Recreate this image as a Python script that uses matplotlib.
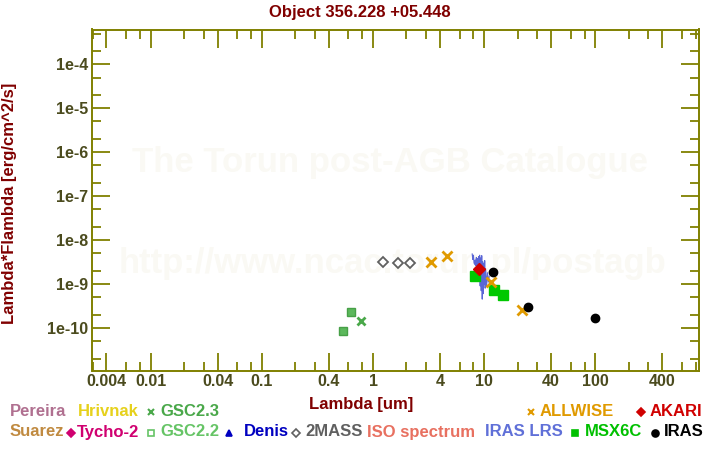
#!/usr/bin/env python3
import matplotlib
matplotlib.use('Agg')
import matplotlib.pyplot as plt
from matplotlib.lines import Line2D
from matplotlib.ticker import FixedLocator, NullFormatter

# photometry (lambda in um, lambda*F_lambda in erg/cm^2/s)
mass_wl = [1.235, 1.662, 2.159]
mass_fl = [3.16e-9, 3.0e-9, 3.0e-9]
allwise_wl = [3.35, 4.6, 11.6, 22.1]
allwise_fl = [3.16e-9, 4.3e-9, 1.11e-9, 2.57e-10]
akari_wl = [9.0]
akari_fl = [2.19e-9]
iras_wl = [12.0, 25.0, 100.0]
iras_fl = [1.87e-9, 3.0e-10, 1.71e-10]
msx_wl = [8.28, 12.13, 14.65]
msx_fl = [1.52e-9, 7.3e-10, 5.6e-10]
gsc22_wl = [0.63, 0.536]
gsc22_fl = [2.31e-10, 8.5e-11]
gsc23_wl = [0.777]
gsc23_fl = [1.45e-10]

# IRAS LRS spectrum (noisy)
lrs_wl = [7.8, 7.9, 8.0, 8.1, 8.2, 8.3, 8.4, 8.5, 8.6, 8.7, 8.8, 8.9, 9.0, 9.1,
          9.2, 9.3, 9.4, 9.5, 9.6, 9.7, 9.8, 9.9, 10.0, 10.1, 10.2, 10.3, 10.5,
          10.7, 10.9, 11.1]
lrs_fl = [4.8e-9, 3.6e-9, 4.5e-9, 3.0e-9, 2.8e-9, 3.5e-9, 2.6e-9, 4.0e-9, 2.2e-9,
          3.8e-9, 1.6e-9, 4.2e-9, 1.2e-9, 4.5e-9, 9.0e-10, 3.9e-9, 7.0e-10, 4.4e-9,
          4.5e-10, 3.2e-9, 6.0e-10, 2.9e-9, 1.0e-9, 3.4e-9, 8.0e-10, 2.2e-9, 9.0e-10,
          1.8e-9, 1.1e-9, 1.5e-9]

x_major = [0.004, 0.01, 0.04, 0.1, 0.4, 1, 4, 10, 40, 100, 400]
x_major_labels = ['0.004', '0.01', '0.04', '0.1', '0.4', '1', '4', '10', '40', '100', '400']
y_major = [1e-10, 1e-9, 1e-8, 1e-7, 1e-6, 1e-5, 1e-4]
y_major_labels = ['1e-10', '1e-9', '1e-8', '1e-7', '1e-6', '1e-5', '1e-4']

OLIVE = '#808000'
TICKTXT = '#4b4b1e'
DARKRED = '#800000'
FONT = ['Liberation Sans', 'DejaVu Sans']

plt.rcParams['font.family'] = FONT
plt.rcParams['font.weight'] = 'bold'

W, H = 720, 450
fig = plt.figure(figsize=(7.2, 4.5), dpi=100)
ax = fig.add_axes([92.5 / W, 1 - 371 / H, (699.3 - 92.5) / W, (371 - 29.5) / H])

ax.set_xscale('log')
ax.set_yscale('log')
ax.set_xlim(0.003, 860)
ax.set_ylim(1.04e-11, 6.2e-4)

# watermark
ax.text(0.49, 0.61, 'The Torun post-AGB Catalogue', transform=ax.transAxes,
        ha='center', va='center', fontsize=25, color='#faf9f4', zorder=0)
ax.text(0.495, 0.315, 'http://www.ncac.torun.pl/postagb', transform=ax.transAxes,
        ha='center', va='center', fontsize=25, color='#faf9f4', zorder=0)

ax.plot(lrs_wl, lrs_fl, '-', color='#5a66d6', lw=0.8, zorder=2)
ax.plot(gsc22_wl, gsc22_fl, 's', ms=6, mfc='#5cb85c', mec='#47a047', mew=1, zorder=3)
ax.plot(gsc23_wl, gsc23_fl, 'x', ms=6, color='#4aa84a', mew=2, zorder=3)
ax.plot(mass_wl, mass_fl, 'D', ms=5.5, mfc='white', mec='#606060', mew=1.3, zorder=3)
ax.plot(allwise_wl, allwise_fl, 'x', ms=7, color='#e09a00', mew=2, zorder=4)
ax.plot(msx_wl, msx_fl, 's', ms=6.5, color='#00c800', zorder=3)
ax.plot(akari_wl, akari_fl, 'D', ms=6.5, color='#d00000', zorder=5)
ax.plot(iras_wl, iras_fl, 'o', ms=6, color='black', zorder=5)

# ticks
ax.xaxis.set_major_locator(FixedLocator(x_major))
ax.set_xticklabels(x_major_labels)
x_minor = []
for d in [0.001, 0.01, 0.1, 1, 10, 100]:
    for m in [2, 3, 6, 8]:
        x_minor.append(m * d)
ax.xaxis.set_minor_locator(FixedLocator(x_minor))
ax.xaxis.set_minor_formatter(NullFormatter())
ax.yaxis.set_major_locator(FixedLocator(y_major))
ax.set_yticklabels(y_major_labels)
y_minor = []
for e in range(-12, -3):
    y_minor += [2 * 10.0 ** e, 5 * 10.0 ** e]
ax.yaxis.set_minor_locator(FixedLocator(y_minor))
ax.yaxis.set_minor_formatter(NullFormatter())

ax.tick_params(which='both', direction='in', top=True, right=True, color=OLIVE, width=1.3)
ax.tick_params(which='major', length=13)
ax.tick_params(which='minor', length=6.5)
ax.tick_params(axis='x', which='major', labelsize=11.5, labelcolor=TICKTXT, pad=2)
ax.tick_params(axis='y', which='major', labelsize=11.5, labelcolor=TICKTXT, pad=3)
for lab in ax.get_xticklabels() + ax.get_yticklabels():
    lab.set_fontweight('bold')
for s in ax.spines.values():
    s.set_color(OLIVE)
    s.set_linewidth(1.4)

def fx(px):
    return px / W

def fy(py):
    return 1 - py / H

fig.text(fx(360), fy(12), 'Object 356.228 +05.448', ha='center', va='center',
         fontsize=12, color=DARKRED, fontweight='bold')
fig.text(fx(10), fy(203), 'Lambda*Flambda [erg/cm^2/s]', ha='center', va='center',
         rotation=90, fontsize=12, color=DARKRED, fontweight='bold')
fig.text(fx(361), fy(405), 'Lambda [um]', ha='center', va='center',
         fontsize=12, color=DARKRED, fontweight='bold')

# legend, drawn as in the catalogue page
row1, row2 = 411, 432
labels = [
    (10, row1, 'Pereira', '#b07090'),
    (78, row1, 'Hrivnak', '#e6d11c'),
    (160, row1, 'GSC2.3', '#4aa84a'),
    (540, row1, 'ALLWISE', '#e09a00'),
    (650, row1, 'AKARI', '#d00000'),
    (10, row2, 'Suarez', '#c08a40'),
    (77, row2, 'Tycho-2', '#d00070'),
    (160, row2, 'GSC2.2', '#66c466'),
    (244, row2, 'Denis', '#0000c0'),
    (305, row2, '2MASS', '#606060'),
    (367, row2, 'ISO spectrum', '#e87060'),
    (485, row2, 'IRAS LRS', '#6070d8'),
    (585, row2, 'MSX6C', '#00c000'),
    (664, row2, 'IRAS', 'black'),
]
for px, py, txt, col in labels:
    fig.text(fx(px), fy(py), txt, ha='left', va='center', fontsize=12,
             color=col, fontweight='bold')

marks = [
    (151, row1, 'x', '#4aa84a', 'full'),
    (531, row1, 'x', '#e09a00', 'full'),
    (641, row1, 'D', '#d00000', 'full'),
    (71, row2, 'D', '#d00070', 'full'),
    (151, row2, 's', '#66c466', 'none'),
    (229, row2, '^', '#0000c0', 'full'),
    (296, row2, 'D', '#606060', 'none'),
    (575, row2, 's', '#00c000', 'full'),
    (655, row2, 'o', 'black', 'full'),
]
for px, py, m, col, fill in marks:
    ms = 5 if m in ('x', 's', '^', 'o') else 4.5
    fig.add_artist(Line2D([fx(px)], [fy(py + 1)], marker=m, ms=ms, color=col,
                          fillstyle=fill, mew=1.5 if m == 'x' else 1.2,
                          linestyle='none', transform=fig.transFigure))

fig.savefig('out.png', dpi=100, facecolor='white')
plt.close(fig)
